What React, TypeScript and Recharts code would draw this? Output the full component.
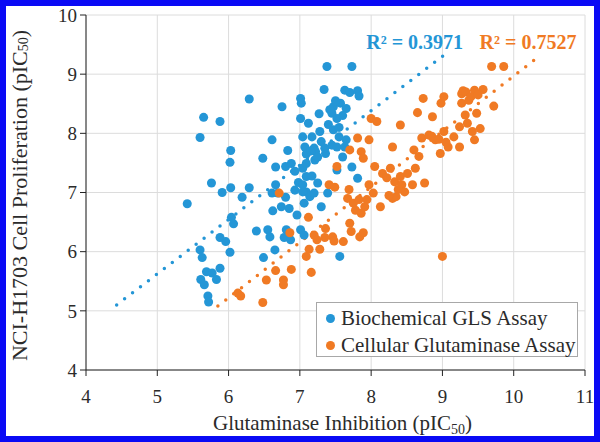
import React from "react";
import {
  ScatterChart,
  Scatter,
  XAxis,
  YAxis,
  ZAxis,
  CartesianGrid,
  ReferenceLine,
  ReferenceDot,
  Legend,
  Label,
} from "recharts";

// [glutaminase pIC50, proliferation pIC50]
const biochemical: [number, number][] = [
  [5.42, 6.81], [5.6, 7.93], [5.65, 8.27], [5.88, 8.2], [6.29, 8.58], [6.03, 7.71],
  [6.02, 7.51], [5.76, 7.16], [5.91, 7.0], [6.03, 7.08], [6.29, 7.08], [6.19, 6.92],
  [6.04, 6.58], [6.07, 6.47], [5.88, 6.24], [5.96, 6.17], [6.02, 5.99], [5.6, 6.03],
  [5.63, 5.9], [5.61, 5.53], [5.66, 5.44], [5.69, 5.66], [5.77, 5.64], [5.88, 5.72],
  [5.83, 5.53], [5.71, 5.25], [5.72, 5.15], [6.48, 7.58], [6.61, 7.89], [6.75, 8.45],
  [7.01, 8.59], [7.02, 8.51], [6.83, 7.71], [6.66, 7.43], [6.8, 7.44], [6.88, 7.49],
  [6.93, 7.36], [6.66, 7.13], [6.61, 6.99], [6.69, 6.99], [6.8, 6.92], [6.62, 6.69],
  [6.74, 6.76], [6.85, 6.73], [6.96, 6.62], [6.39, 6.35], [6.55, 6.37], [6.58, 6.25],
  [6.81, 6.37], [6.78, 6.24], [6.87, 6.2], [7.01, 6.37], [7.06, 6.28], [6.65, 6.03],
  [6.49, 5.9], [7.01, 8.25], [7.12, 8.17], [7.27, 8.33], [7.38, 9.13], [7.73, 9.13],
  [7.34, 8.74], [7.63, 8.73], [7.7, 8.69], [7.81, 8.72], [7.83, 8.63], [7.47, 8.45],
  [7.57, 8.51], [7.65, 8.42], [7.45, 8.34], [7.52, 8.25], [7.04, 7.94], [7.17, 7.94],
  [7.07, 7.77], [7.2, 7.75], [7.28, 8.03], [7.3, 7.86], [7.36, 7.66], [7.09, 7.65],
  [7.22, 7.69], [7.47, 8.06], [7.55, 7.94], [7.52, 7.77], [7.65, 7.89], [7.63, 7.77],
  [7.04, 7.41], [7.09, 7.27], [6.98, 7.17], [7.17, 7.28], [7.25, 7.16], [7.09, 7.01],
  [7.14, 6.93], [7.06, 6.82], [7.04, 7.01], [7.3, 6.76], [7.52, 7.38], [7.73, 7.43],
  [7.81, 7.24], [7.39, 6.99], [7.56, 5.92], [7.04, 7.13], [7.2, 6.99], [6.93, 7.04],
  [7.21, 7.55], [7.09, 7.49], [7.42, 8.4], [7.5, 8.55], [7.6, 8.3], [7.4, 8.15],
  [7.55, 8.1], [7.35, 7.75], [7.45, 7.8], [7.6, 7.6], [7.15, 7.7], [7.25, 7.6],
];

const cellular: [number, number][] = [
  [6.17, 5.25], [6.13, 5.3], [6.48, 5.14], [6.53, 5.52], [6.66, 5.68], [6.77, 5.52],
  [6.77, 5.44], [6.88, 5.7], [7.16, 5.65], [6.71, 6.99], [6.86, 6.32], [7.12, 6.58],
  [7.2, 6.28], [7.24, 6.2], [7.09, 5.92], [7.13, 6.04], [7.28, 6.04], [7.36, 6.39],
  [7.46, 6.25], [7.48, 6.18], [7.41, 7.13], [7.49, 7.09], [7.52, 7.44], [7.69, 7.05],
  [7.67, 6.9], [7.7, 7.72], [7.81, 7.92], [7.86, 7.69], [7.97, 7.89], [8.0, 8.25],
  [8.08, 8.2], [7.89, 7.58], [7.75, 6.82], [7.83, 6.88], [7.94, 6.88], [7.78, 6.7],
  [7.91, 6.76], [7.97, 7.13], [7.7, 6.48], [7.72, 6.34], [7.84, 6.25], [7.86, 6.65],
  [8.05, 7.44], [8.16, 7.32], [8.27, 7.41], [8.13, 6.76], [8.03, 6.99], [8.33, 7.18],
  [8.41, 7.27], [8.43, 7.13], [8.3, 6.9], [8.35, 6.93], [8.47, 7.01], [8.51, 7.32],
  [8.3, 7.77], [8.41, 8.14], [8.6, 7.72], [8.65, 8.35], [8.73, 8.59], [8.62, 7.41],
  [8.58, 7.13], [8.75, 7.16], [8.71, 7.92], [8.81, 7.97], [8.86, 8.28], [8.9, 7.89],
  [8.98, 8.51], [9.02, 8.62], [8.97, 7.66], [9.02, 8.03], [9.08, 7.77], [9.16, 7.94],
  [9.24, 8.11], [9.24, 7.77], [9.0, 5.92], [9.27, 8.67], [9.27, 8.51], [9.32, 8.31],
  [9.37, 8.56], [9.45, 8.73], [9.57, 8.74], [9.35, 8.17], [9.48, 8.34], [9.42, 8.03],
  [9.45, 7.89], [9.53, 8.08], [9.69, 9.13], [9.86, 9.13], [9.72, 8.46], [9.29, 8.72],
  [7.89, 6.32], [7.61, 6.17], [7.35, 6.24], [8.67, 7.61], [8.22, 7.25], [8.38, 7.05],
  [8.25, 6.95], [9.33, 8.7], [9.4, 8.62], [9.5, 8.65], [8.85, 7.95], [8.95, 7.9],
  [9.05, 7.85],
];

// linear trendline end points (x, y)
const biochemicalFit = [
  { x: 4.43, y: 5.1 },
  { x: 9.02, y: 9.32 },
];
const cellularFit = [
  { x: 5.85, y: 5.08 },
  { x: 10.3, y: 9.25 },
];
const r2Labels = [
  { x: 8.61, y: 9.55, text: "R\u00b2 = 0.3971" },
  { x: 10.2, y: 9.55, text: "R\u00b2 = 0.7527" },
];

const xTicks = [4, 5, 6, 7, 8, 9, 10, 11];
const yTicks = [4, 5, 6, 7, 8, 9, 10];

const blue = "#2496d6";
const orange = "#f07a24";
const font = "Liberation Serif, Times New Roman, serif";
const ink = "#2b2b2b";

const toPoints = (rows: [number, number][]) => rows.map(([x, y]) => ({ x, y }));

const XTitle = ({ viewBox }: any) => {
  const cx = viewBox.x + viewBox.width / 2 + 7;
  const y = viewBox.y + 60;
  return (
    <text x={cx} y={y} textAnchor="middle" fontFamily={font} fontSize={21} fill={ink}>
      Glutaminase Inhibition (pIC
      <tspan fontSize={14} dy={4}>50</tspan>
      <tspan dy={-4}>)</tspan>
    </text>
  );
};

const YTitle = ({ viewBox }: any) => {
  const cx = 19;
  const cy = viewBox.y + viewBox.height / 2 + 3;
  return (
    <text
      x={cx}
      y={cy}
      transform={`rotate(-90 ${cx} ${cy})`}
      textAnchor="middle"
      dominantBaseline="central"
      fontFamily={font}
      fontSize={22}
      fill={ink}
    >
      NCI-H1703 Cell Proliferation (pIC
      <tspan fontSize={14} dy={4}>50</tspan>
      <tspan dy={-4}>)</tspan>
    </text>
  );
};

const r2Label = (text: string, color: string) => ({ viewBox }: any) => (
  <text
    x={viewBox.x + viewBox.width / 2}
    y={viewBox.y + viewBox.height / 2}
    textAnchor="middle"
    dominantBaseline="central"
    fontFamily={font}
    fontWeight="bold"
    fontSize={20}
    fill={color}
  >
    {text}
  </text>
);

const LegendBox = ({ payload }: any) => (
  <div
    style={{
      width: 262,
      height: 55,
      boxSizing: "border-box",
      border: "1px solid #a8a8a8",
      background: "#fff",
      padding: "2px 0 0 9px",
      fontFamily: font,
      fontSize: 21,
      color: ink,
      lineHeight: "27px",
    }}
  >
    {(payload || []).map((p: any) => (
      <div key={p.value} style={{ display: "flex", alignItems: "center", whiteSpace: "nowrap" }}>
        <span
          style={{
            display: "inline-block",
            width: 9,
            height: 9,
            borderRadius: "50%",
            background: p.color,
            marginRight: 6,
          }}
        />
        {p.value}
      </div>
    ))}
  </div>
);

export default function App() {
  return (
    <div style={{ position: "absolute", left: 0, top: 0, width: 600, height: 442, background: "#fff" }}>
      <ScatterChart
        width={600}
        height={442}
        margin={{ top: 15, right: 15, bottom: 0, left: 0 }}
        style={{ fontFamily: font }}
      >
        <CartesianGrid stroke="#dcdcdc" strokeWidth={1} />
        <XAxis
          type="number"
          dataKey="x"
          domain={[4, 11]}
          ticks={xTicks}
          height={72}
          tick={{ fontFamily: font, fontSize: 19, fill: ink }}
          tickSize={6}
          tickMargin={14}
          axisLine={{ stroke: "#222" }}
          tickLine={{ stroke: "#222" }}
          allowDataOverflow
        >
          <Label content={<XTitle />} />
        </XAxis>
        <YAxis
          type="number"
          dataKey="y"
          domain={[4, 10]}
          ticks={yTicks}
          width={86}
          tick={{ fontFamily: font, fontSize: 19, fill: ink }}
          tickSize={6}
          tickMargin={3}
          axisLine={{ stroke: "#222" }}
          tickLine={{ stroke: "#222" }}
          allowDataOverflow
        >
          <Label content={<YTitle />} />
        </YAxis>
        <ZAxis type="number" range={[70, 70]} />
        <Scatter
          name="Biochemical GLS Assay"
          data={toPoints(biochemical)}
          fill={blue}
          isAnimationActive={false}
        />
        <Scatter
          name="Cellular Glutaminase Assay"
          data={toPoints(cellular)}
          fill={orange}
          isAnimationActive={false}
        />
        <ReferenceLine
          segment={biochemicalFit}
          stroke={blue}
          strokeWidth={3.5}
          strokeDasharray="0 10"
          strokeLinecap="round"
        />
        <ReferenceLine
          segment={cellularFit}
          stroke={orange}
          strokeWidth={3.5}
          strokeDasharray="0 10"
          strokeLinecap="round"
        />
        <ReferenceDot
          x={r2Labels[0].x}
          y={r2Labels[0].y}
          r={0}
          fill="none"
          stroke="none"
          label={r2Label(r2Labels[0].text, blue)}
        />
        <ReferenceDot
          x={r2Labels[1].x}
          y={r2Labels[1].y}
          r={0}
          fill="none"
          stroke="none"
          label={r2Label(r2Labels[1].text, orange)}
        />
        <Legend
          layout="vertical"
          align="center"
          verticalAlign="middle"
          content={<LegendBox />}
          wrapperStyle={{ left: 316, top: 302, width: 262, height: 55 }}
        />
      </ScatterChart>
      <div
        style={{
          position: "absolute",
          left: 0,
          top: 0,
          width: 600,
          height: 442,
          boxSizing: "border-box",
          border: "6px solid #0a0af5",
          pointerEvents: "none",
        }}
      />
    </div>
  );
}
